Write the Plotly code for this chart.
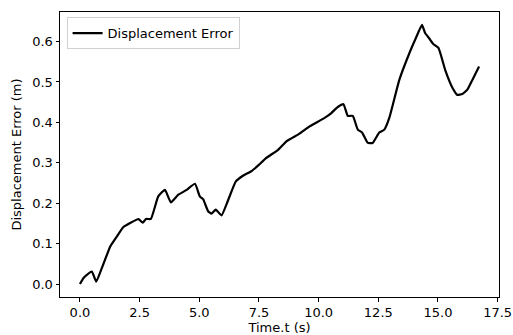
import plotly.graph_objects as go

time_s = [0.0, 0.15, 0.29, 0.5, 0.68, 0.92, 1.27, 1.55, 1.82, 2.1, 2.45, 2.63, 2.77, 2.97,
          3.28, 3.56, 3.81, 4.12, 4.47, 4.82, 5.02, 5.16, 5.37, 5.51, 5.69, 5.93, 6.21, 6.53,
          6.83, 7.18, 7.46, 7.81, 8.30, 8.65, 9.20, 9.62, 10.25, 10.53, 10.80, 11.04, 11.22,
          11.43, 11.64, 11.82, 12.05, 12.26, 12.54, 12.75, 12.96, 13.38, 13.80, 14.07, 14.33,
          14.46, 14.63, 14.80, 15.02, 15.30, 15.61, 15.81, 16.02, 16.23, 16.44, 16.72]
disp_err = [0.0, 0.015, 0.023, 0.031, 0.006, 0.04, 0.093, 0.118, 0.141, 0.151, 0.161, 0.152,
            0.161, 0.161, 0.217, 0.233, 0.202, 0.221, 0.233, 0.248, 0.217, 0.210, 0.180, 0.174,
            0.184, 0.170, 0.208, 0.254, 0.268, 0.279, 0.293, 0.312, 0.332, 0.353, 0.372, 0.390,
            0.411, 0.423, 0.438, 0.445, 0.416, 0.416, 0.382, 0.375, 0.350, 0.349, 0.375, 0.382,
            0.411, 0.505, 0.571, 0.608, 0.641, 0.621, 0.608, 0.594, 0.584, 0.530, 0.485, 0.468,
            0.470, 0.481, 0.505, 0.538]

x_ticks = [0.0, 2.5, 5.0, 7.5, 10.0, 12.5, 15.0, 17.5]
y_ticks = [0.0, 0.1, 0.2, 0.3, 0.4, 0.5, 0.6]

font = dict(family="DejaVu Sans", size=13, color="black")

fig = go.Figure()
fig.add_trace(go.Scatter(x=time_s, y=disp_err, mode="lines",
                         line=dict(color="black", width=2.2, shape="spline", smoothing=0.4),
                         name="Displacement Error"))

axis_common = dict(showgrid=False, zeroline=False, showline=True, linecolor="black",
                   linewidth=1, mirror=True, ticks="outside", ticklen=3.5, tickwidth=1,
                   tickcolor="black", tickfont=font, automargin=False)

fig.update_layout(
    width=513, height=335,
    margin=dict(l=60, r=14, t=12, b=38),
    paper_bgcolor="white", plot_bgcolor="white",
    font=font,
    showlegend=True,
    legend=dict(x=0.015, y=0.982, xanchor="left", yanchor="top",
                bordercolor="#d0d0d0", borderwidth=1, bgcolor="rgba(255,255,255,0.8)",
                font=font),
    xaxis=dict(range=[-0.836, 17.556], tickvals=x_ticks,
               ticktext=[f"{v:.1f}" for v in x_ticks],
               title=dict(text="Time.t (s)", font=font, standoff=1), **axis_common),
    yaxis=dict(range=[-0.032, 0.673], tickvals=y_ticks,
               ticktext=[f"{v:.1f}" for v in y_ticks],
               title=dict(text="Displacement Error (m)", font=font, standoff=7), **axis_common),
)

fig.write_html("out.html")
